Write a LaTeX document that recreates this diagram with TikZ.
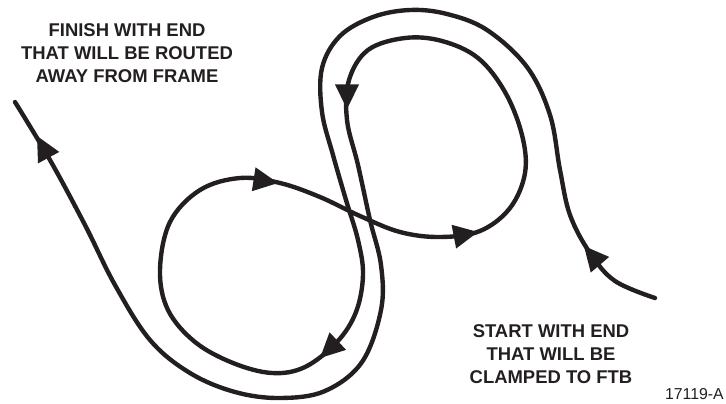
\documentclass[tikz,border=0pt]{standalone}
\usepackage{fontspec}
\setmainfont{Liberation Sans}
\usetikzlibrary{arrows.meta}
\definecolor{cableink}{RGB}{35,31,32}
\tikzset{
  cable/.style={draw=cableink,line width=2.5pt,line cap=round,line join=round},
  flowtip/.style={draw=cableink,line width=1pt,-{Triangle[length=14pt,width=13.5pt,color=cableink]}},
  note/.style={align=center,text=cableink,font=\fontsize{10.5}{13}\selectfont\bfseries}
}
\begin{document}
\begin{tikzpicture}[x=0.02cm,y=-0.02cm]
  \useasboundingbox (0,0) rectangle (726,403);
  % the cable, from the clamped end round both loops
  \draw[cable] plot[smooth,tension=0.6] coordinates {
    (655,298) (615,281) (590,253) (570,215) (560,170) (550,115) (527,67) (487,30)
    (447,14) (410,10) (373,17) (340,36) (322,68) (322,112) (333,155) (346,200)
    (358,240) (363,275) (356,312) (337,342) (305,367) (272,373) (233,363)
    (195,342) (168,310) (160,270) (170,222) (200,190) (240,178) (280,183)
    (320,197) (360,216) (400,232) (440,237) (480,231) (510,208) (525,173)
    (522,135) (505,92) (478,58) (442,41) (405,38) (368,50) (349,80) (347,120)
    (358,165) (370,220) (381,265) (381,310) (362,362) (325,391) (280,398)
    (235,392) (190,373) (150,340) (115,285) (85,225) (50,160) (15,102)
  };
  % flow direction
  \draw[flowtip] (601,266) -- (584,246);
  \draw[flowtip] (339,340) -- (320,358);
  \draw[flowtip] (252,179) -- (278,183);
  \draw[flowtip] (452,237) -- (478,232);
  \draw[flowtip] (347,84) -- (347,109);
  \draw[flowtip] (51,162) -- (37,136);
  % labels
  \node[note] (finishnote) at (127,53) {FINISH WITH END\\THAT WILL BE ROUTED\\AWAY FROM FRAME};
  \node[note] (startnote) at (551,354) {START WITH END\\THAT WILL BE\\CLAMPED TO FTB};
  \node[anchor=east,inner sep=0pt,text=cableink,font=\fontsize{9}{10}\selectfont] (figno) at (724,394) {17119-A};
\end{tikzpicture}
\end{document}
